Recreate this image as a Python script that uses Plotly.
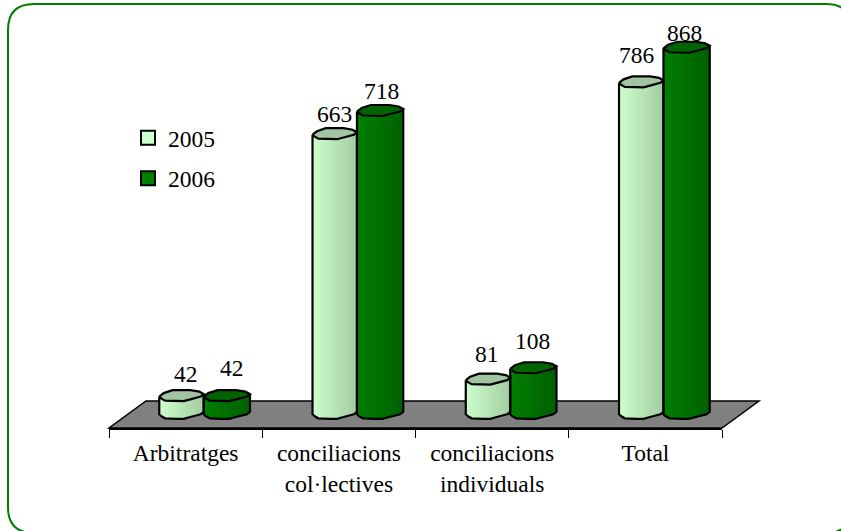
import plotly.graph_objects as go

categories = ["Arbitratges", "conciliacions<br>col·lectives", "conciliacions<br>individuals", "Total"]
values_2005 = [42, 663, 81, 786]
values_2006 = [42, 718, 108, 868]

W, H = 841, 531
ML, MR, MT, MB = 109, 119, 10, 103
PX_X = (W - ML - MR) / 4
PX_Y = 0.4217
Y_BOTTOM = -14.7 / PX_Y
Y_TOP = (H - MT - MB) / PX_Y + Y_BOTTOM
xs = list(range(len(categories)))

# cylinder cross-section: (u across the width, pixels below the centre of the top)
FRONT = [(0, 1), (.05, 3), (.13, 5), (.4, 5.5), (.55, 5.5), (.72, 3.5), (.93, 1), (1, -1.5)]
BACK = [(1, -1.5), (.9, -4), (.7, -5.5), (.3, -5.5), (.1, -2.5), (0, 1)]


def interp(profile, u):
    for (a, da), (b, db) in zip(profile, profile[1:]):
        if a <= u <= b:
            return da + (db - da) * (u - a) / (b - a)
    return profile[-1][1]


def mix(c1, c2, t):
    return "rgb(%d,%d,%d)" % tuple(round(a + (b - a) * t) for a, b in zip(c1, c2))


SERIES = [
    dict(name="2005", values=values_2005, left=-.172, width=.29, c1=(204, 255, 204), c2=(163, 204, 163),
         cap="#a3c4a3", swatch="#ccffcc"),
    dict(name="2006", values=values_2006, left=.118, width=.302, c1=(0, 128, 0), c2=(0, 96, 0),
         cap="#006400", swatch="#008000"),
]
LABEL_SHIFT = {
    "2005": [(4.6, 21.6), (0, 19.7), (-1, 25), (-4, 26.8)],
    "2006": [(5, 27.6), (1, 19.5), (-1, 26.8), (-2, 14.3)],
}
N = 10
fig = go.Figure()
annotations = []
for s in SERIES:
    bw = s["width"] / N
    for k in range(N):
        u = (k + .5) / N
        d = interp(FRONT, u) / PX_Y
        width = bw if k == N - 1 else bw + 1.5 / PX_X
        fig.add_bar(x=xs, y=s["values"], base=[-d] * 4, width=width, offset=s["left"] + k * bw,
                    marker=dict(color=mix(s["c1"], s["c2"], u), line_width=0),
                    showlegend=False, hoverinfo="skip")
    for x, v, (dx, dy) in zip(xs, s["values"], LABEL_SHIFT[s["name"]]):
        x0 = x + s["left"]
        front = [(x0 + u * s["width"], v - d / PX_Y) for u, d in FRONT]
        back = [(x0 + u * s["width"], v - d / PX_Y) for u, d in BACK]
        cap = front + back[1:]
        fig.add_scatter(x=[p[0] for p in cap], y=[p[1] for p in cap], mode="lines", fill="toself",
                        fillcolor=s["cap"], line=dict(color="black", width=2.2), showlegend=False, hoverinfo="skip")
        bottom = [(x0 + u * s["width"], -d / PX_Y) for u, d in FRONT]
        outline = [front[0]] + bottom + [front[-1]]
        fig.add_scatter(x=[p[0] for p in outline], y=[p[1] for p in outline], mode="lines",
                        line=dict(color="black", width=2.2), showlegend=False, hoverinfo="skip")
        annotations.append(dict(x=x0 + s["width"] / 2, y=v, text=str(v), showarrow=False, xshift=dx, yshift=dy,
                                yanchor="middle", font=dict(size=23.5, color="black")))
    fig.add_scatter(x=[None], y=[None], mode="markers", name=s["name"], legendgroup=s["name"],
                    marker=dict(symbol="square", size=14, color=s["swatch"], line=dict(color="black", width=2)))


def px(x):
    return (x - ML) / (W - ML - MR)


def py(y):
    return 1 - (y - MT) / (H - MT - MB)


FL, FT, FR, FB, R = 8, 4, 852, 533, 26
frame = (f"M {px(FL)} {py(FT + R)} Q {px(FL)} {py(FT)} {px(FL + R)} {py(FT)} "
         f"L {px(FR - R)} {py(FT)} Q {px(FR)} {py(FT)} {px(FR)} {py(FT + R)} "
         f"L {px(FR)} {py(FB - R)} Q {px(FR)} {py(FB)} {px(FR - R)} {py(FB)} "
         f"L {px(FL + R)} {py(FB)} Q {px(FL)} {py(FB)} {px(FL)} {py(FB - R)} Z")
floor = (f"M {px(109)} {py(428)} L {px(722)} {py(428)} L {px(759)} {py(401)} L {px(146)} {py(401)} Z")

fig.update_layout(
    width=W, height=H, autosize=False,
    margin=dict(l=ML, r=MR, t=MT, b=MB, pad=0),
    paper_bgcolor="white", plot_bgcolor="rgba(0,0,0,0)",
    barmode="overlay",
    font=dict(family="Liberation Serif", size=23.5, color="black"),
    xaxis=dict(range=[-.5, 3.5], tickmode="array", tickvals=xs, ticktext=categories, ticks="", showgrid=False,
               zeroline=False, showline=True, linecolor="black", linewidth=2, ticklabelstandoff=3,
               minor=dict(tickmode="array", tickvals=[-.5, .5, 1.5, 2.5, 3.5], ticks="outside", ticklen=8,
                          tickwidth=1, tickcolor="black", showgrid=False),
               tickfont=dict(size=23.5), fixedrange=True),
    yaxis=dict(range=[Y_BOTTOM, Y_TOP], visible=False, fixedrange=True),
    showlegend=True,
    legend=dict(x=px(128), y=py(116), xanchor="left", yanchor="top", bgcolor="rgba(0,0,0,0)",
                tracegroupgap=7, font=dict(size=23.5)),
    shapes=[
        dict(type="path", xref="paper", yref="paper", path=floor, fillcolor="#808080",
             line=dict(color="black", width=1.5), layer="below"),
        dict(type="path", xref="paper", yref="paper", path=frame, fillcolor="rgba(0,0,0,0)",
             line=dict(color="#008000", width=2), layer="below"),
    ],
    annotations=annotations,
)
fig.write_html("out.html", config=dict(displayModeBar=False),
               post_script="document.body.style.margin='0';document.body.style.overflow='hidden';")
